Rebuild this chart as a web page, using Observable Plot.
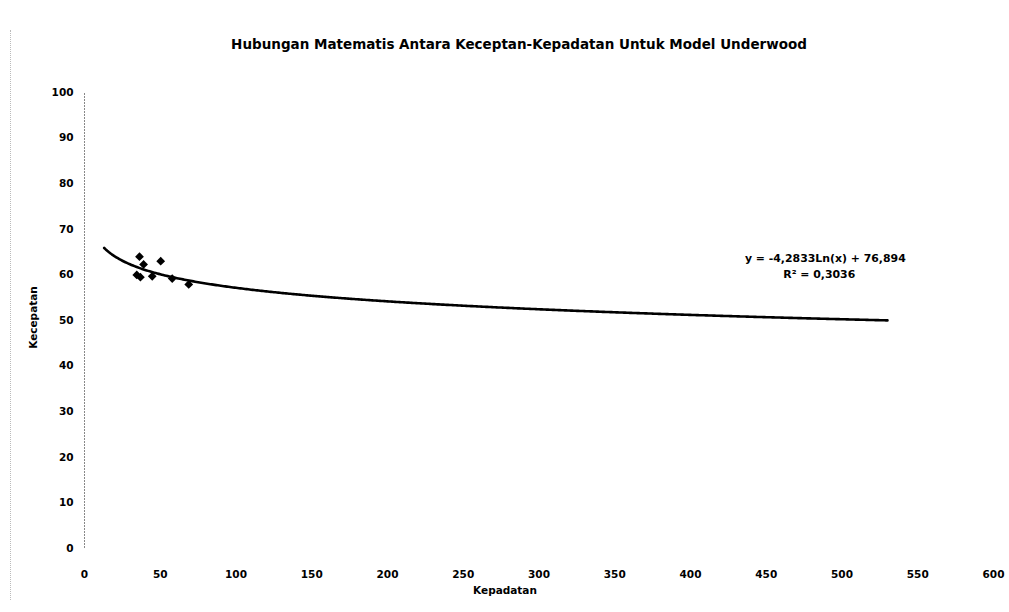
<!DOCTYPE html>
<html>
<head>
<meta charset="utf-8">
<script src="https://cdn.jsdelivr.net/npm/d3@7"></script>
<script src="https://cdn.jsdelivr.net/npm/@observablehq/plot@0.6"></script>
<style>
  html, body { margin: 0; padding: 0; background: #fff; }
  #wrap { position: relative; width: 1009px; height: 612px; }
  #edge { position: absolute; left: 10px; top: 30px; height: 570px; border-left: 1px dotted #bbb; }
  svg { font-family: "DejaVu Sans", Verdana, sans-serif; font-weight: bold; }
</style>
</head>
<body>
<div id="wrap"><div id="edge"></div></div>
<script>
// Observed density (Kepadatan) and speed (Kecepatan) pairs
const kepadatan = [36.3, 50.3, 39.0, 34.5, 36.9, 44.7, 57.9, 68.8];
const kecepatan = [64.0, 63.0, 62.3, 60.0, 59.5, 59.7, 59.2, 57.9];

// Logarithmic trend line: y = a·ln(x) + b
const trendA = -4.2833;
const trendB = 76.894;
const trendR2 = 0.3036;
const trendFrom = 13;
const trendTo = 530;

const xTicks = [0, 50, 100, 150, 200, 250, 300, 350, 400, 450, 500, 550, 600];
const yTicks = [0, 10, 20, 30, 40, 50, 60, 70, 80, 90, 100];

const titleText = "Hubungan Matematis Antara Keceptan-Kepadatan Untuk Model Underwood";
const xLabel = "Kepadatan";
const yLabel = "Kecepatan";
const fmt = v => v.toFixed(4).replace(".", ",");
const eqText = `y = ${String(trendA).replace(".", ",")}Ln(x) + ${String(trendB).replace(".", ",")}`;
const r2Text = `R² = ${fmt(trendR2)}`;

const points = kepadatan.map((x, i) => ({x, y: kecepatan[i]}));
const trend = d3.range(trendFrom, trendTo + 0.5, 1).map(x => ({x, y: trendA * Math.log(x) + trendB}));

const chart = Plot.plot({
  width: 1009,
  height: 612,
  marginLeft: 84,
  marginRight: 16,
  marginTop: 92,
  marginBottom: 64,
  style: {fontFamily: "DejaVu Sans, Verdana, sans-serif", fontWeight: "bold", fontSize: "10.5px", color: "#000"},
  x: {domain: [0, 600], ticks: xTicks, tickSize: 0, tickPadding: 22, label: null},
  y: {domain: [0, 100], ticks: yTicks, tickSize: 0, tickPadding: 11, label: null},
  marks: [
    Plot.ruleX([0], {y1: 0, y2: 100, stroke: "#888", strokeDasharray: "2,1", strokeWidth: 1}),
    Plot.axisX({ticks: xTicks, tickSize: 0, tickPadding: 22, fontSize: 10.5}),
    Plot.axisY({ticks: yTicks, tickSize: 0, tickPadding: 11, fontSize: 10.5}),
    Plot.line(trend, {x: "x", y: "y", stroke: "#000", strokeWidth: 2.6}),
    Plot.dot(points, {x: "x", y: "y", symbol: "square", rotate: 45, r: 3.5, fill: "#000", stroke: "none"}),
    Plot.text([titleText], {frameAnchor: "top", dx: -20, dy: -53, fontSize: 13.5, fontWeight: "bold"}),
    Plot.text([xLabel], {frameAnchor: "bottom", dx: -34, dy: 45, fontSize: 10.5, fontWeight: "bold"}),
    Plot.text([yLabel], {frameAnchor: "left", textAnchor: "middle", dx: -51, dy: -3, rotate: -90, fontSize: 10.5, fontWeight: "bold"}),
    Plot.text([eqText], {x: 489, y: 63.6, textAnchor: "middle", fontSize: 10.9, fontWeight: "bold"}),
    Plot.text([r2Text], {x: 485, y: 60.1, textAnchor: "middle", fontSize: 10.9, fontWeight: "bold"})
  ]
});
document.getElementById("wrap").appendChild(chart);
chart.style.position = "absolute";
chart.style.left = "0";
chart.style.top = "0";
</script>
</body>
</html>
